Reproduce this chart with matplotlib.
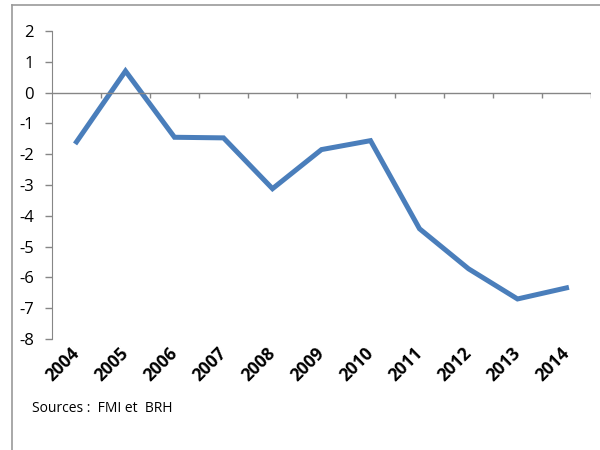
import matplotlib
matplotlib.use("Agg")
import matplotlib.pyplot as plt
from matplotlib.lines import Line2D
import numpy as np

years = ['2004', '2005', '2006', '2007', '2008', '2009', '2010', '2011', '2012', '2013', '2014']
values = [-1.6, 0.7, -1.45, -1.47, -3.12, -1.85, -1.56, -4.42, -5.72, -6.7, -6.34]

plt.rcParams['font.family'] = ['Open Sans', 'DejaVu Sans']
grey = '#868686'

fig = plt.figure(figsize=(6, 4.5), dpi=100)
ax = fig.add_axes([52/600, 1 - 339/450, 539/600, 308/450])

x = np.arange(len(years))
ax.plot(x, values, color='#4A7EBB', linewidth=3.6, solid_joinstyle='miter')

ax.set_xlim(-0.5, len(years) - 0.5)
ax.set_ylim(-8, 2)
ax.set_yticks(range(-8, 3))
ax.set_yticklabels([str(v) for v in range(-8, 3)], fontsize=12)
ax.tick_params(axis='y', length=5, width=1, color=grey, pad=8)

ax.set_xticks(x)
ax.set_xticklabels(years, rotation=45, ha='right', va='center', rotation_mode='anchor',
                   fontsize=12.5, fontweight='bold')
ax.tick_params(axis='x', length=0, pad=8)

for s in ['top', 'right', 'bottom']:
    ax.spines[s].set_visible(False)
ax.spines['left'].set_color(grey)

# category axis drawn at zero with boundary ticks
ax.axhline(0, color=grey, linewidth=1)
bounds = np.arange(len(years) + 1) - 0.5
ax.vlines(bounds[1:], -0.17, 0, color=grey, linewidth=1)

# outer chart frame (only left and top edges visible)
top_y = 1 - 5/450
left_x = 11.5/600
fig.add_artist(Line2D([left_x, 1], [top_y, top_y], transform=fig.transFigure,
                      color='#999999', linewidth=1.2))
fig.add_artist(Line2D([left_x, left_x], [0, top_y], transform=fig.transFigure,
                      color='#999999', linewidth=1.2))

fig.text(32/600, 1 - 408/450, 'Sources :  FMI et  BRH', fontsize=10, va='center')

fig.savefig('out.png', dpi=100)
